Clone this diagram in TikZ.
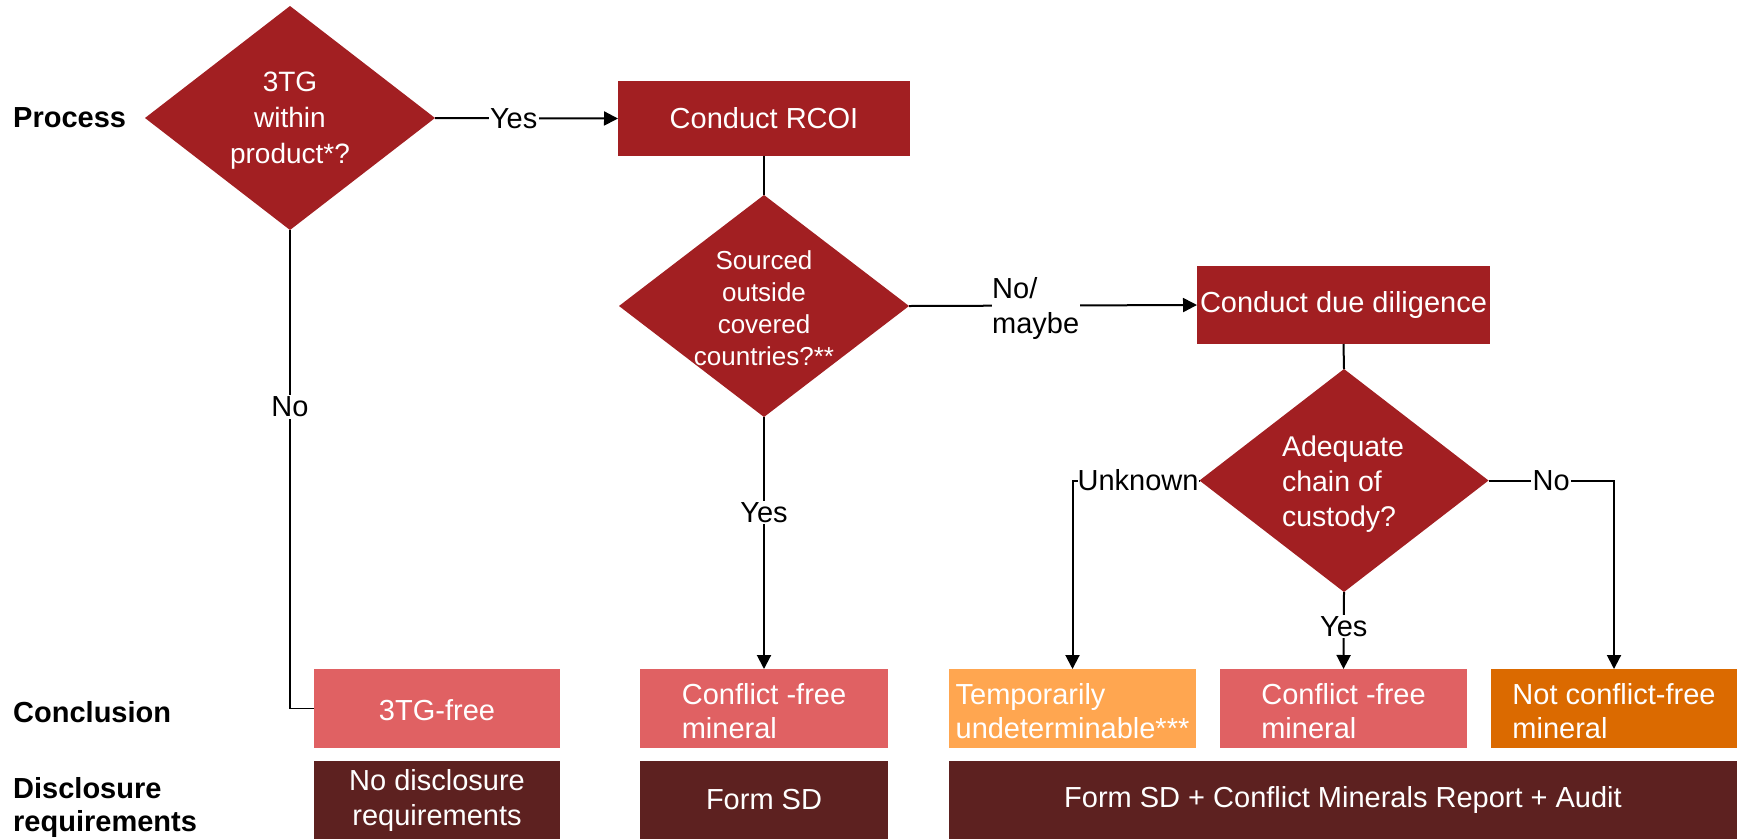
\documentclass[tikz,border=0pt]{standalone}
\usepackage{fontspec}
\setmainfont{Liberation Sans}
\usetikzlibrary{shapes.geometric,arrows.meta}

\definecolor{procred}{HTML}{A21F22}
\definecolor{concpink}{HTML}{E06163}
\definecolor{concamber}{HTML}{FFA650}
\definecolor{concorange}{HTML}{DB6A00}
\definecolor{discbrown}{HTML}{5D2120}

\tikzset{
  decision/.style={diamond, fill=procred, draw=none, inner sep=0pt, outer sep=0pt},
  dtext/.style={text=white, align=center, inner sep=0pt},
  procbox/.style={rectangle, fill=procred, draw=none, inner sep=0pt, outer sep=0pt,
    text=white, font=\fontsize{29}{35}\selectfont},
  concbox/.style={rectangle, draw=none, inner sep=0pt, outer sep=0pt,
    minimum width=247pt, minimum height=79pt, text=white, align=left,
    font=\fontsize{29}{34}\selectfont},
  conctext/.style={text=white, align=left, inner sep=0pt,
    font=\fontsize{29}{34}\selectfont},
  discbox/.style={rectangle, fill=discbrown, draw=none, inner sep=0pt, outer sep=0pt,
    minimum height=78pt, text=white, align=center,
    font=\fontsize{29}{35}\selectfont},
  rowlabel/.style={anchor=west, inner sep=0pt, align=left,
    font=\bfseries\fontsize{29}{33}\selectfont},
  lbl/.style={fill=white, text=black, inner sep=1.5pt, align=left,
    font=\fontsize{29}{35}\selectfont},
  conn/.style={line width=2pt, -{Triangle[length=14pt,width=14pt]}},
  link/.style={line width=2pt},
  thinlink/.style={line width=1.2pt},
}

\begin{document}
\begin{tikzpicture}[x=1pt, y=-1pt]
  \useasboundingbox (0,0) rectangle (1740,839);

  % row headings
  \node[rowlabel] (hproc) at (13,118) {Process};
  \node[rowlabel] (hconc) at (13,712) {Conclusion};
  \node[rowlabel] (hdisc) at (13,807.5) {Disclosure\\requirements};

  % process row
  \node[decision, minimum width=290pt, minimum height=224pt] (d1) at (290,118) {};
  \node[dtext, font=\fontsize{28}{36}\selectfont] (d1t) at (290,121) {3TG\\within\\product*?};

  \node[procbox, minimum width=292pt, minimum height=75pt] (rcoi) at (764,118.5) {Conduct RCOI};

  \node[decision, minimum width=290pt, minimum height=222pt] (d2) at (764,306) {};
  \node[dtext, font=\fontsize{26}{32}\selectfont] (d2t) at (764,308) {Sourced\\outside\\covered\\countries?**};

  \node[procbox, minimum width=293pt, minimum height=78pt] (dd) at (1343.5,305) {Conduct due diligence};

  \node[decision, minimum width=289pt, minimum height=223pt] (d3) at (1344,480.5) {};
  \node[dtext, align=left, font=\fontsize{28.5}{35}\selectfont] (d3t) at (1343,484) {Adequate\\chain of\\custody?};

  % conclusion row: coloured boxes with their texts
  \node[concbox, fill=concpink, minimum width=246pt] (c1) at (437,708.5) {};
  \node[conctext] (c1t) at (437,710) {3TG-free};
  \node[concbox, fill=concpink, minimum width=248pt] (c2) at (764,708.5) {};
  \node[conctext] (c2t) at (764,711) {Conflict -free\\mineral};
  \node[concbox, fill=concamber] (c3) at (1072.5,708.5) {};
  \node[conctext] (c3t) at (1072.5,711) {Temporarily\\undeterminable***};
  \node[concbox, fill=concpink] (c4) at (1343.5,708.5) {};
  \node[conctext] (c4t) at (1343.5,711) {Conflict -free\\mineral};
  \node[concbox, fill=concorange, minimum width=246pt] (c5) at (1614,708.5) {};
  \node[conctext] (c5t) at (1614,711) {Not conflict-free\\mineral};

  % disclosure row
  \node[discbox, minimum width=246pt] (r1) at (437,800) {No disclosure\\requirements};
  \node[discbox, minimum width=248pt] (r2) at (764,800) {Form SD};
  \node[discbox, minimum width=788pt] (r3) at (1343,800) {Form SD + Conflict Minerals Report + Audit};

  % connectors
  \draw[conn] (d1.east) -- node[lbl, pos=0.43] {Yes} (rcoi.west);
  \draw[thinlink] (d1.south) -- node[lbl, pos=0.37] {No} (d1.south |- c1.west) -- (c1.west);
  \draw[link] (rcoi.south) -- (d2.north);
  \draw[conn] (d2.east) -- node[lbl, pos=0.44, yshift=-3pt, inner xsep=0.5pt] {No/\\maybe} (dd.west);
  \draw[conn] (d2.south) -- node[lbl, pos=0.38] {Yes} (c2.north);
  \draw[link] (dd.south) -- (d3.north);
  \draw[conn] (d3.west) -- node[lbl, at start, anchor=east, inner sep=0pt] {Unknown} (d3.west -| c3.north) -- (c3.north);
  \draw[conn] (d3.south) -- node[lbl, pos=0.45] {Yes} (c4.north);
  \draw[conn] (d3.east) -- node[lbl, pos=0.5] {No} (d3.east -| c5.north) -- (c5.north);
\end{tikzpicture}
\end{document}
